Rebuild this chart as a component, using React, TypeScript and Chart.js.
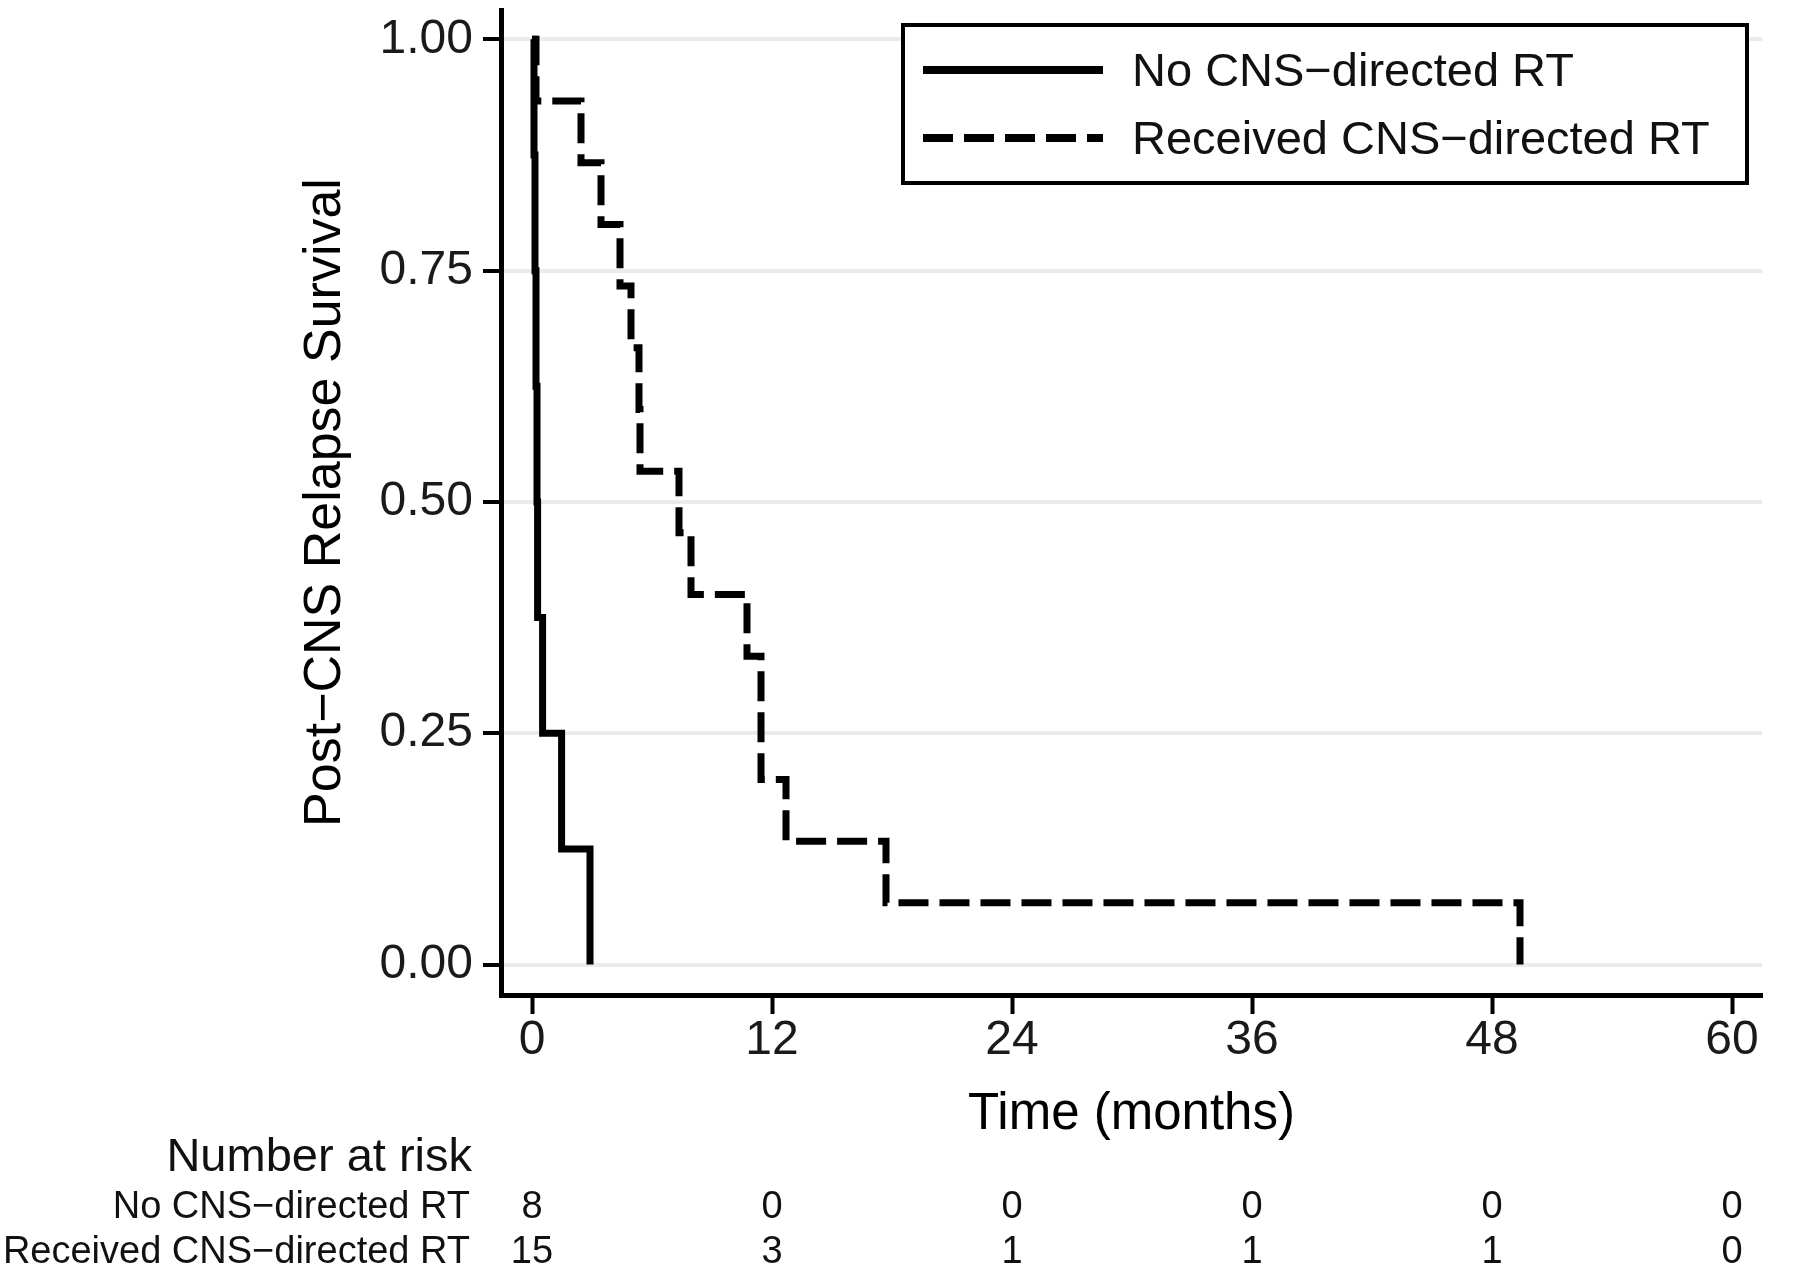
import React, { useEffect, useRef } from "react";
import { Chart, registerables } from "chart.js";

Chart.register(...registerables);

const FONT = '"Liberation Sans", Arial, Helvetica, sans-serif';

const seriesLabels = ["No CNS\u2212directed RT", "Received CNS\u2212directed RT"];

// Kaplan-Meier step points (time in months, survival proportion)
const noRtTimes = [0, 0.1, 0.15, 0.2, 0.25, 0.28, 0.53, 1.48, 2.9];
const noRtSurvival = [1, 0.875, 0.75, 0.625, 0.5, 0.375, 0.25, 0.125, 0];

const rtTimes = [0, 0.2, 2.45, 3.45, 4.4, 4.95, 5.35, 5.4, 7.35, 7.95, 10.75, 11.45, 12.7, 17.7, 49.4];
const rtSurvival = [1, 0.9333, 0.8667, 0.8, 0.7333, 0.6667, 0.6, 0.5333, 0.4667, 0.4, 0.3333, 0.2, 0.1333, 0.0667, 0];

const xTickValues = [0, 12, 24, 36, 48, 60];
const yTickValues = [0, 0.25, 0.5, 0.75, 1];

const riskTimes = [0, 12, 24, 36, 48, 60];
const riskNoRt = [8, 0, 0, 0, 0, 0];
const riskRt = [15, 3, 1, 1, 1, 0];

const riskTitle = "Number at risk";
const xTitle = "Time (months)";
const yTitle = "Post\u2212CNS Relapse Survival";

const DASH = [30, 11];

const overlayPlugin = {
  id: "kmOverlay",
  afterDraw(chart: any) {
    const ctx = chart.ctx as CanvasRenderingContext2D;
    const xs = chart.scales.x;
    ctx.save();

    // Legend box
    const bx = 903, by = 25, bw = 844, bh = 158;
    ctx.fillStyle = "#ffffff";
    ctx.fillRect(bx, by, bw, bh);
    ctx.strokeStyle = "#000";
    ctx.lineWidth = 4;
    ctx.setLineDash([]);
    ctx.strokeRect(bx, by, bw, bh);

    const rows = [
      { y: 70, dash: [] as number[], text: seriesLabels[0], base: 86 },
      { y: 138, dash: DASH, text: seriesLabels[1], base: 154 },
    ];
    rows.forEach((r) => {
      ctx.beginPath();
      ctx.setLineDash(r.dash);
      ctx.lineWidth = 8;
      ctx.lineCap = "butt";
      ctx.moveTo(923, r.y);
      ctx.lineTo(1103, r.y);
      ctx.stroke();
      ctx.setLineDash([]);
      ctx.fillStyle = "#111";
      ctx.font = `47px ${FONT}`;
      ctx.textAlign = "left";
      ctx.textBaseline = "alphabetic";
      ctx.fillText(r.text, 1132, r.base);
    });

    // Number at risk table
    ctx.fillStyle = "#111";
    ctx.textBaseline = "alphabetic";
    ctx.textAlign = "right";
    ctx.font = `47px ${FONT}`;
    ctx.fillText(riskTitle, 472, 1171);
    ctx.font = `38px ${FONT}`;
    ctx.fillText(seriesLabels[0], 470, 1218);
    ctx.fillText(seriesLabels[1], 470, 1263);
    ctx.textAlign = "center";
    riskTimes.forEach((t, i) => {
      const px = xs.getPixelForValue(t);
      ctx.fillText(String(riskNoRt[i]), px, 1218);
      ctx.fillText(String(riskRt[i]), px, 1263);
    });

    ctx.restore();
  },
};

export default function App() {
  const canvasRef = useRef<HTMLCanvasElement | null>(null);

  useEffect(() => {
    if (!canvasRef.current) return;
    const chart = new Chart(canvasRef.current, {
      type: "line",
      data: {
        datasets: [
          {
            label: seriesLabels[0],
            data: noRtTimes.map((t, i) => ({ x: t, y: noRtSurvival[i] })),
            borderColor: "#000",
            borderWidth: 7,
            stepped: "before",
            pointRadius: 0,
            fill: false,
            borderCapStyle: "butt",
            borderJoinStyle: "miter",
          },
          {
            label: seriesLabels[1],
            data: rtTimes.map((t, i) => ({ x: t, y: rtSurvival[i] })),
            borderColor: "#000",
            borderWidth: 7,
            borderDash: DASH,
            stepped: "before",
            pointRadius: 0,
            fill: false,
            borderCapStyle: "butt",
            borderJoinStyle: "miter",
          },
        ],
      },
      options: {
        animation: false,
        responsive: false,
        maintainAspectRatio: false,
        layout: { padding: { left: 0, right: 38, top: 10, bottom: 0 } },
        plugins: {
          legend: { display: false },
          tooltip: { enabled: false },
        },
        scales: {
          x: {
            type: "linear",
            min: -1.55,
            max: 61.5,
            afterBuildTicks: (s: any) => {
              s.ticks = xTickValues.map((v) => ({ value: v }));
            },
            afterFit: (s: any) => {
              s.height = 282;
              s.paddingLeft = 0;
              s.paddingRight = 0;
            },
            ticks: {
              autoSkip: false,
              maxRotation: 0,
              padding: 0,
              color: "#1a1a1a",
              font: { family: FONT, size: 48, lineHeight: 1.1 },
              callback: (v: any) => String(v),
            },
            grid: {
              drawOnChartArea: false,
              drawTicks: true,
              tickLength: 19,
              tickColor: "#000",
              tickWidth: 4,
            },
            border: { display: true, color: "#000", width: 5 },
            title: {
              display: true,
              text: xTitle,
              color: "#000",
              font: { family: FONT, size: 51, lineHeight: 1.2 },
              padding: { top: 0, bottom: 131 },
            },
          },
          y: {
            type: "linear",
            min: -0.0329,
            max: 1.0317,
            afterBuildTicks: (s: any) => {
              s.ticks = yTickValues.map((v) => ({ value: v }));
            },
            afterFit: (s: any) => {
              s.width = 501;
              s.paddingTop = 0;
              s.paddingBottom = 0;
            },
            ticks: {
              padding: 10,
              color: "#1a1a1a",
              font: { family: FONT, size: 48 },
              callback: (v: any) => Number(v).toFixed(2),
            },
            grid: {
              color: "#ebebeb",
              lineWidth: 4,
              drawTicks: true,
              tickLength: 18,
              tickColor: "#000",
              tickWidth: 4,
            },
            border: { display: true, color: "#000", width: 5 },
            title: {
              display: true,
              text: yTitle,
              color: "#000",
              font: { family: FONT, size: 52, lineHeight: 1.2 },
              padding: { top: 294, bottom: 0 },
            },
          },
        },
      } as any,
      plugins: [overlayPlugin],
    });
    return () => chart.destroy();
  }, []);

  return (
    <div style={{ position: "absolute", left: 0, top: 0, width: 1800, height: 1277, background: "#fff" }}>
      <canvas ref={canvasRef} width={1800} height={1277} style={{ width: 1800, height: 1277, display: "block" }} />
    </div>
  );
}
